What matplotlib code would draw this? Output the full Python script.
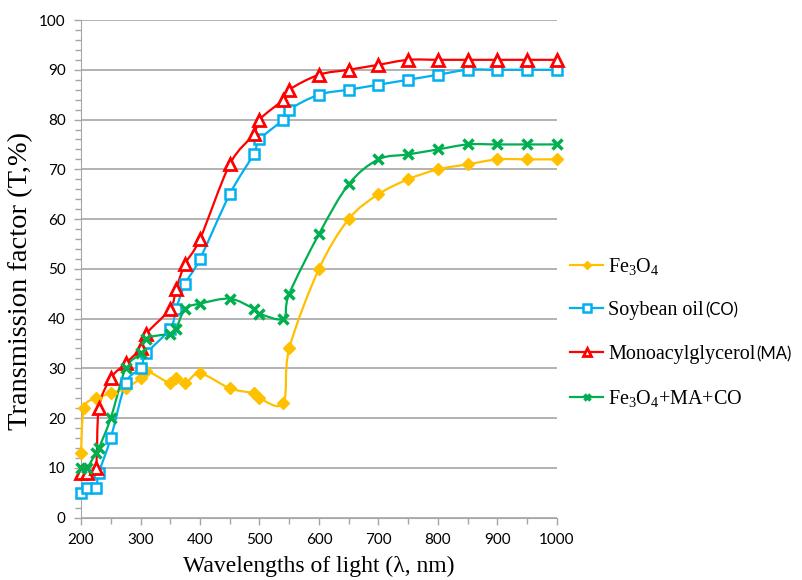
"""Transmision vs longitud de onda: Fe3O4, aceite de soya, MA y mezcla."""
import numpy as np
import matplotlib
matplotlib.use("Agg")
import matplotlib.pyplot as plt
from matplotlib.path import Path
from matplotlib.patches import PathPatch
from matplotlib.lines import Line2D

plt.rcParams["mathtext.fontset"] = "custom"
plt.rcParams["mathtext.rm"] = "Liberation Serif"
plt.rcParams["mathtext.it"] = "Liberation Serif:italic"

# datos
x_fe = [200, 205, 225, 250, 275, 300, 310, 350, 360, 375, 400, 450, 490, 500,
        540, 550, 600, 650, 700, 750, 800, 850, 900, 950, 1000]
y_fe = [13, 22, 24, 25, 26, 28, 29.5, 27, 28, 27, 29, 26, 25, 24,
        23, 34, 50, 60, 65, 68, 70, 71, 72, 72, 72]

x_otros = [200, 210, 225, 230, 250, 275, 300, 310, 350, 360, 375, 400, 450,
           490, 500, 540, 550, 600, 650, 700, 750, 800, 850, 900, 950, 1000]
y_co = [5, 6, 6, 9, 16, 27, 30, 33, 38, 42, 47, 52, 65,
        73, 76, 80, 82, 85, 86, 87, 88, 89, 90, 90, 90, 90]
y_ma = [9, 9, 10, 22, 28, 31, 34, 37, 42, 46, 51, 56, 71,
        77, 80, 84, 86, 89, 90, 91, 92, 92, 92, 92, 92, 92]
y_mix = [10, 10, 13, 14, 20, 30, 33, 36, 37, 38, 42, 43, 44,
         42, 41, 40, 45, 57, 67, 72, 73, 74, 75, 75, 75, 75]

etiquetas = [r"Fe$_3$O$_4$", "Soybean oil", "Monoacylglycerol", r"Fe$_3$O$_4$+MA+CO"]
sufijos = ["", "(CO)", "(MA)", ""]

AMARILLO, AZUL, ROJO, VERDE = "#FFC000", "#00B0F0", "#FF0000", "#00B050"
GRIS = "#A6A6A6"


def curva_suave(x, y):
    """Trazo tipo Excel (Catmull-Rom -> Bezier) entre los puntos."""
    p = np.column_stack([x, y]).astype(float)
    n = len(p)
    verts, codes = [tuple(p[0])], [Path.MOVETO]
    for i in range(n - 1):
        p0 = p[i - 1] if i > 0 else p[i]
        p3 = p[i + 2] if i + 2 < n else p[i + 1]
        c1 = p[i] + (p[i + 1] - p0) / 6
        c2 = p[i + 1] - (p3 - p[i]) / 6
        verts += [tuple(c1), tuple(c2), tuple(p[i + 1])]
        codes += [Path.CURVE4] * 3
    return Path(verts, codes)


series = [
    (x_fe, y_fe, AMARILLO, dict(marker="D", ms=6, mfc=AMARILLO, mec=AMARILLO, mew=1)),
    (x_otros, y_co, AZUL, dict(marker="s", ms=7.5, mfc="white", mec=AZUL, mew=1.8)),
    (x_otros, y_ma, ROJO, dict(marker="^", ms=8.5, mfc="white", mec=ROJO, mew=2)),
    (x_otros, y_mix, VERDE, dict(marker="x", ms=7, mfc=VERDE, mec=VERDE, mew=2.5)),
]

fig = plt.figure(figsize=(8.02, 5.8), dpi=100)
ax = fig.add_axes([0.101, 0.1074, 0.5935, 0.8581])

handles = []
for x, y, col, mk in series:
    ax.add_patch(PathPatch(curva_suave(x, y), fc="none", ec=col, lw=1.6,
                           zorder=3, clip_on=False))
    ax.plot(x, y, ls="none", zorder=4, clip_on=False, **mk)
    leg_mk = dict(mk)
    leg_mk["ms"] = mk["ms"] * 0.7
    handles.append(Line2D([], [], color=col, lw=1.6, **leg_mk))

ax.set_xlim(200, 1000)
ax.set_ylim(0, 100)
ax.set_xticks(np.arange(200, 1001, 100))
ax.set_xticks(np.arange(200, 1001, 50), minor=True)
ax.set_yticks(np.arange(0, 101, 10))
ax.set_yticks(np.arange(0, 101, 2), minor=True)
ax.grid(axis="y", which="major", color=GRIS, lw=1.2)
ax.set_axisbelow(True)
for s in ["top", "right"]:
    ax.spines[s].set_visible(False)
for s in ["left", "bottom"]:
    ax.spines[s].set_color(GRIS)
ax.tick_params(which="both", direction="out", color=GRIS, length=5, width=1)
ax.tick_params(which="minor", length=4)
ax.tick_params(labelsize=11, pad=6)
for t in ax.get_xticklabels() + ax.get_yticklabels():
    t.set_fontfamily("Lato")

ax.set_xlabel("Wavelengths of light (λ, nm)", fontsize=17,
              family="Liberation Serif", labelpad=6)
ax.set_ylabel("Transmission factor (T,%)", fontsize=20.5,
              family="Liberation Serif")
ax.yaxis.set_label_coords(-0.1, 0.475)

leg = fig.legend(handles, etiquetas, loc="center left",
                 bbox_to_anchor=(0.7107, 0.4267), frameon=False,
                 prop={"family": "Liberation Serif", "size": 14.5},
                 borderpad=0, borderaxespad=0, handlelength=1.65,
                 handletextpad=0.25, labelspacing=1.2)

fig.canvas.draw()
for txt, suf in zip(leg.get_texts(), sufijos):
    if not suf:
        continue
    bb = txt.get_window_extent()
    fig.text((bb.x1 + 1) / fig.bbox.width, (bb.y0 + 4.5) / fig.bbox.height, suf,
             family="Lato", fontsize=12, va="baseline", ha="left")

fig.savefig("out.png", dpi=100)
